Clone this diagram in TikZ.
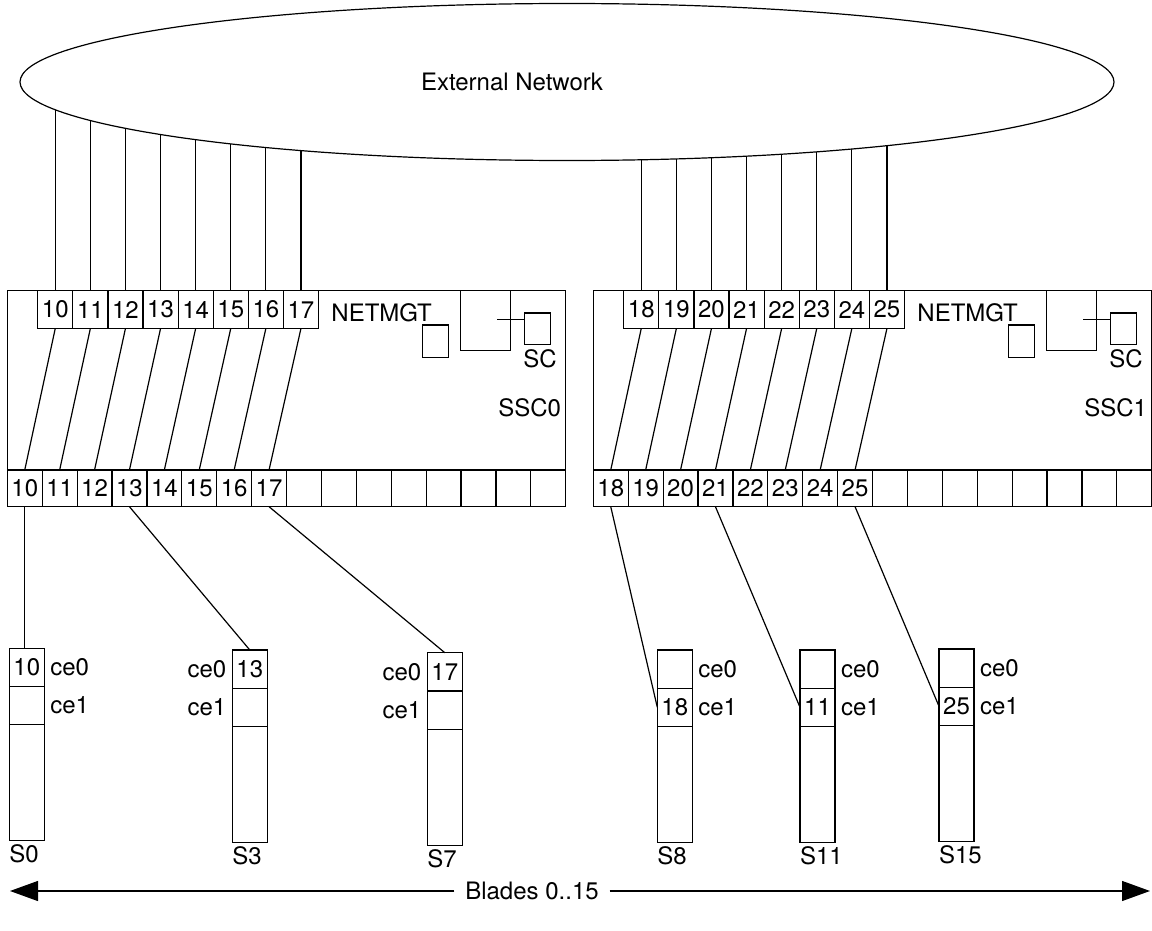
\documentclass[tikz,border=0pt]{standalone}
\usepackage{fontspec}
\setmainfont{TeX Gyre Heros}
\usetikzlibrary{positioning,shapes.geometric,arrows.meta}

\begin{document}
\begin{tikzpicture}[x=1pt, y=-1pt, line width=1.2pt,
font=\fontsize{24}{28}\selectfont,
every node/.style={inner sep=0pt, outer sep=0pt},
card/.style={rectangle, draw, minimum width=558.4pt, minimum height=216.2pt},
upport/.style={rectangle, draw, minimum width=35.1pt, minimum height=38pt},
downport/.style={rectangle, draw, minimum width=34.9pt, minimum height=36.7pt},
chip/.style={rectangle, draw, minimum width=26pt, minimum height=32.3pt},
scbox/.style={rectangle, draw, minimum width=50.4pt, minimum height=60.2pt},
bladecell/.style={rectangle, draw, minimum width=35pt, minimum height=38.2pt},
bladebody/.style={rectangle, draw, minimum width=35pt, minimum height=116pt},
tip/.style={-{Triangle[length=28pt, width=20pt]}},
]
\useasboundingbox (0,0) rectangle (1152,931);

%Network centre
\coordinate (netc) at (567,82);

%Switch cards
\foreach \s/\dx in {0/0, 1/586}{
  \node[card, anchor=north west] (ssc\s) at (7.3+\dx, 290.5) {};
  \foreach \k in {0,...,7}{
    \pgfmathtruncatemacro{\n}{10+8*\s+\k}
    \node[upport, anchor=north west] (tp\n) at (37.7+\dx+35.1*\k, 290.5) {\n};
    \node[downport, anchor=south west] (bp\n) at (7.3+\dx+34.9*\k, 506.7) {\n};
    \node[downport, anchor=south west] (bx\s\k) at (286.5+\dx+34.9*\k, 506.7) {};
    \draw (tp\n.south) -- (bp\n.north);
    \draw (tp\n.north) -- (tp\n.north |- netc);
  }
  \node[anchor=base east] (nmlab\s) at (431.7+\dx, 321.7) {NETMGT};
  \node[chip, anchor=north west] (nm\s) at (422.7+\dx, 325) {};
  \node[scbox, anchor=north west] (scb\s) at (460.3+\dx, 290.5) {};
  \node[chip, minimum height=31.7pt, anchor=north west] (sc\s) at (524.7+\dx, 313) {};
  \draw ([yshift=9.6pt]sc\s.west) -- ++(-27.4,0);
  \node[anchor=north] (sclab\s) at (540+\dx, 350) {SC};
  \node[anchor=east] (ssclab\s) at (561+\dx, 408) {SSC\s};
}

%External network
\node[ellipse, draw, fill=white, minimum width=1094pt, minimum height=157pt] (net) at (netc) {};
\node (nettext) at (512,82) {External Network};

%Blades
\foreach \b/\x/\y/\ta/\tb/\side in {0/9.3/648.3/10//right, 3/232.3/650/13//left,
  7/427.3/652.7/17//left, 8/657.3/650//18/right, 11/800/650//11/right, 15/939/649//25/right}{
  \node[bladecell, anchor=north west] (blA\b) at (\x,\y) {\ta};
  \node[bladecell, below=0pt of blA\b] (blB\b) {\tb};
  \node[bladebody, below=0pt of blB\b] (blC\b) {};
  \node[\side=6pt of blA\b] (ceA\b) {ce0};
  \node[\side=6pt of blB\b] (ceB\b) {ce1};
  \node[anchor=north west] (slab\b) at ([yshift=-4pt]blC\b.south west) {S\b};
}

%Lines
\draw (bp10.south) -- (bp10.south |- blA0.north);
\draw (bp13.south) -- (blA3.north);
\draw (bp17.south) -- (blA7.north);
\draw (bp18.south) -- (blB8.west);
\draw (bp21.south) -- (blB11.west);
\draw (bp25.south) -- (blB15.west);

%Blade range
\node[inner xsep=11pt] (blades) at (532,891) {Blades 0..15};
\coordinate (aleft) at (10,891);
\coordinate (aright) at (1150,891);
\draw[tip] (blades.west) -- (aleft);
\draw[tip] (blades.east) -- (aright);
\end{tikzpicture}
\end{document}
